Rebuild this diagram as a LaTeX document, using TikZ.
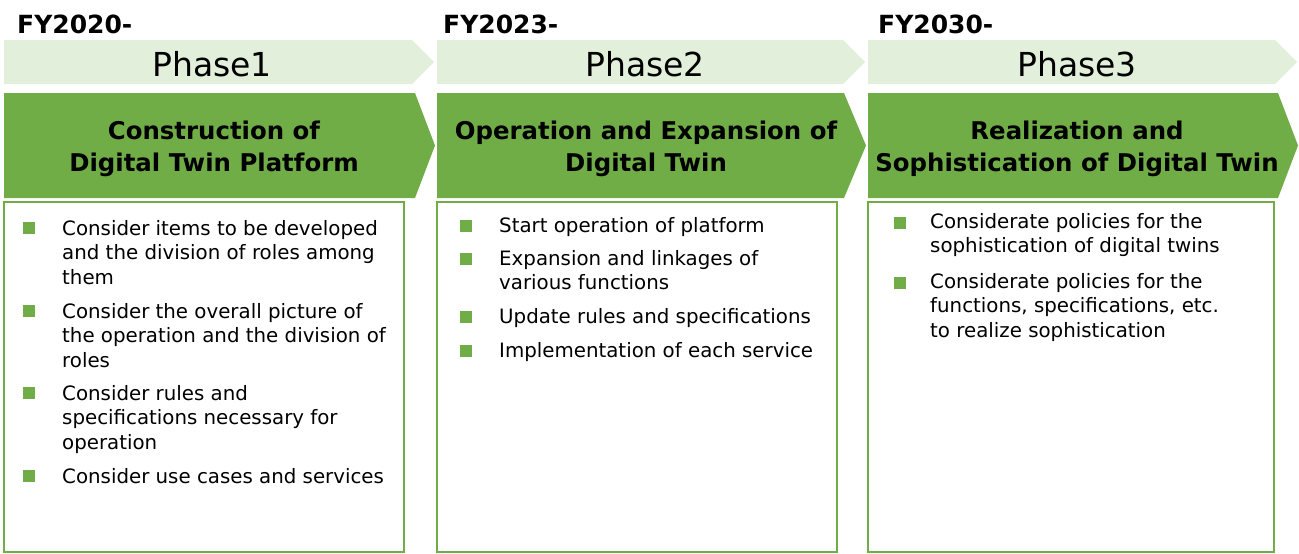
\documentclass[tikz,border=0pt]{standalone}
\usepackage{fontspec}
\setmainfont{DejaVu Sans}
\definecolor{phasegreen}{HTML}{70AD47}
\definecolor{phaselight}{HTML}{E2EFDA}
\begin{document}
\begin{tikzpicture}[x=1pt, y=-1pt,
        fylabel/.style={anchor=base west, inner sep=0, font=\fontsize{25}{28}\selectfont\bfseries},
        phaselabel/.style={anchor=base, inner sep=0, font=\fontsize{33}{36}\selectfont},
        heading/.style={align=center, inner sep=0, font=\fontsize{24.4}{32}\selectfont\bfseries},
        item/.style={anchor=base west, align=left, inner sep=0, font=\fontsize{19.8}{24.5}\selectfont},
        itembullet/.style={rectangle, fill=phasegreen, inner sep=0, minimum size=12pt},
        itembox/.style={draw=phasegreen, line width=1.5pt}]

        \useasboundingbox (0,0) rectangle (1299,554);

        % light chevrons
        \fill[phaselight] (4,40) -- (412,40) -- (434,62) -- (412,84) -- (4,84) -- cycle;
        \fill[phaselight] (437,40) -- (843,40) -- (865,62) -- (843,84) -- (437,84) -- cycle;
        \fill[phaselight] (868,40) -- (1275,40) -- (1297,62) -- (1275,84) -- (868,84) -- cycle;

        % dark chevrons
        \fill[phasegreen] (4,93) -- (415,93) -- (435,145.5) -- (415,198) -- (4,198) -- cycle;
        \fill[phasegreen] (437,93) -- (844,93) -- (866,145.5) -- (844,198) -- (437,198) -- cycle;
        \fill[phasegreen] (868,93) -- (1278,93) -- (1298,145.5) -- (1278,198) -- (868,198) -- cycle;

        % boxes
        \draw[itembox] (4,202) rectangle (404,552);
        \draw[itembox] (437,202) rectangle (837,552);
        \draw[itembox] (868,202) rectangle (1274,552);

        \node[fylabel] at (17,33) (fy1) {FY2020-};
        \node[fylabel] at (443,33) (fy2) {FY2023-};
        \node[fylabel] at (878,33) (fy3) {FY2030-};

        \node[phaselabel] at (212,76) (phase1) {Phase1};
        \node[phaselabel] at (645,76) (phase2) {Phase2};
        \node[phaselabel] at (1077,76) (phase3) {Phase3};

        \node[heading] at (214,149) (head1) {Construction of\\Digital Twin Platform};
        \node[heading] at (646,149) (head2) {Operation and Expansion of\\Digital Twin};
        \node[heading] at (1077,149) (head3) {Realization and\\Sophistication of Digital Twin};

        % phase 1 items (base = last line)
        \node[itembullet] at (29,228) (bul11) {};
        \node[item] at (62,284) (item11) {Consider items to be developed\\and the division of roles among\\them};
        \node[itembullet] at (29,311) (bul12) {};
        \node[item] at (62,367) (item12) {Consider the overall picture of\\the operation and the division of\\roles};
        \node[itembullet] at (29,393) (bul13) {};
        \node[item] at (62,449) (item13) {Consider rules and\\specifications necessary for\\operation};
        \node[itembullet] at (29,476) (bul14) {};
        \node[item] at (62,483) (item14) {Consider use cases and services};

        % phase 2 items
        \node[itembullet] at (465.5,226) (bul21) {};
        \node[item] at (499,232) (item21) {Start operation of platform};
        \node[itembullet] at (465.5,259) (bul22) {};
        \node[item] at (499,289.5) (item22) {Expansion and linkages of\\various functions};
        \node[itembullet] at (465.5,317) (bul23) {};
        \node[item] at (499,323) (item23) {Update rules and specifications};
        \node[itembullet] at (465.5,351) (bul24) {};
        \node[item] at (499,357) (item24) {Implementation of each service};

        % phase 3 items
        \node[itembullet] at (899.5,223) (bul31) {};
        \node[item] at (930,252.5) (item31) {Considerate policies for the\\sophistication of digital twins};
        \node[itembullet] at (899.5,283) (bul32) {};
        \node[item] at (930,337) (item32) {Considerate policies for the\\functions, specifications, etc.\\to realize sophistication};
\end{tikzpicture}
\end{document}
